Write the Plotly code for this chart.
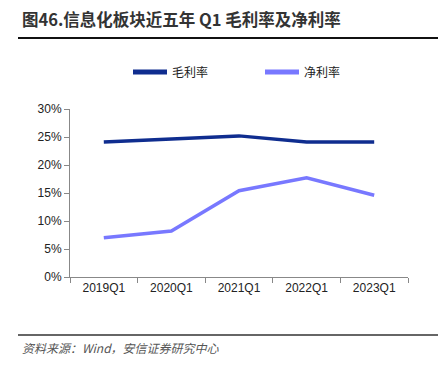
import plotly.graph_objects as go

categories = ["2019Q1", "2020Q1", "2021Q1", "2022Q1", "2023Q1"]
gross_margin = [0.241, 0.247, 0.252, 0.241, 0.241]
net_margin = [0.070, 0.082, 0.154, 0.177, 0.146]
series_names = ["毛利率", "净利率"]
y_ticks = [0, 0.05, 0.10, 0.15, 0.20, 0.25, 0.30]

FONT = "Noto Sans CJK SC, Arial, sans-serif"
PH = 168.0
PW = 338.0

fig = go.Figure()
fig.add_trace(go.Scatter(x=categories, y=gross_margin, mode="lines", name=series_names[0],
                         line=dict(color="#0f2d8f", width=3.5), legend="legend"))
fig.add_trace(go.Scatter(x=categories, y=net_margin, mode="lines", name=series_names[1],
                         line=dict(color="#7878ff", width=3.5), legend="legend2"))

leg_common = dict(orientation="h", xanchor="left", yanchor="middle",
                  y=1 + (109 - 72) / PH, font=dict(family=FONT, size=12, color="#222"),
                  itemwidth=34, itemsizing="constant", bgcolor="rgba(0,0,0,0)")

fig.update_layout(
    width=442, height=367,
    margin=dict(l=70, r=34, t=109, b=90, autoexpand=False),
    paper_bgcolor="white", plot_bgcolor="white",
    font=dict(family="Liberation Sans, Arial, sans-serif", size=12, color="#222"),
    showlegend=True,
    legend=dict(x=(128 - 70) / PW, **leg_common),
    legend2=dict(x=(260 - 70) / PW, **leg_common),
    xaxis=dict(type="category", range=[-0.5, 4.5], showline=True, linecolor="#888",
               linewidth=1, ticks="outside", tickson="boundaries", ticklen=5,
               tickcolor="#888", showgrid=False, zeroline=False,
               tickfont=dict(size=12, color="#222")),
    yaxis=dict(range=[0, 0.30], tickvals=y_ticks, tickformat=".0%", showline=True,
               linecolor="#888", linewidth=1, ticks="outside", ticklen=5,
               tickcolor="#888", showgrid=False, zeroline=False,
               tickfont=dict(size=12, color="#222")),
)

fig.add_annotation(text="<b>图46.信息化板块近五年 Q1 毛利率及净利率</b>", xref="paper", yref="paper",
                   x=-50 / PW, xanchor="left", y=1 + (109 - 19) / PH,
                   yanchor="middle", showarrow=False,
                   font=dict(family=FONT, size=16.5, color="#333"))
fig.add_shape(type="line", xref="paper", yref="paper", x0=-52 / PW, x1=368 / PW,
              y0=1 + (109 - 38) / PH, y1=1 + (109 - 38) / PH, line=dict(color="#111", width=2))
fig.add_shape(type="line", xref="paper", yref="paper", x0=-52 / PW, x1=368 / PW,
              y0=-(335 - 277) / PH, y1=-(335 - 277) / PH, line=dict(color="#666", width=2))
fig.add_annotation(text="<i>资料来源：Wind，安信证券研究中心</i>", xref="paper", yref="paper",
                   x=-50 / PW, xanchor="left", y=-(347 - 277) / PH, yanchor="middle",
                   showarrow=False, font=dict(family=FONT, size=12, color="#555"))

fig.write_html("out.html", post_script="document.body.style.margin='0';",
               config={"displayModeBar": False})
